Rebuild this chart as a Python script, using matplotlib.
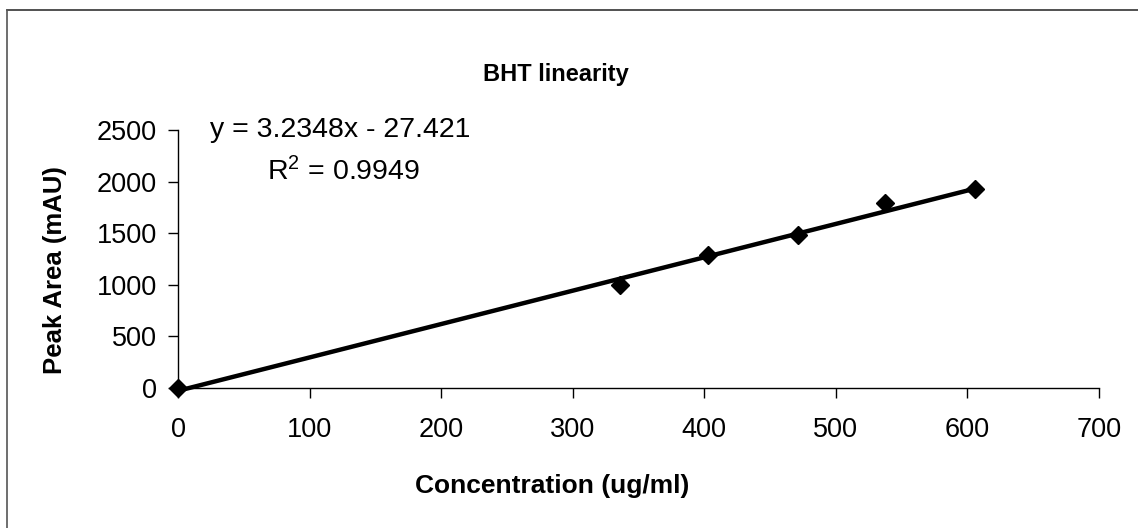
import matplotlib.pyplot as plt
from matplotlib.lines import Line2D

plt.rcParams['font.family'] = ['Liberation Sans', 'DejaVu Sans']

# BHT calibration points
conc = [0, 336, 403, 471.5, 537.5, 605.5]
area = [0, 998, 1289, 1483, 1790, 1925]

slope = 3.2348
intercept = -27.421
r2 = 0.9949

x_ticks = [0, 100, 200, 300, 400, 500, 600, 700]
y_ticks = [0, 500, 1000, 1500, 2000, 2500]

W, H = 1138, 528
fig = plt.figure(figsize=(W / 100, H / 100), dpi=100)
ax = fig.add_axes([178 / W, 1 - 388 / H, 921 / W, 258 / H])

# linear trendline over the data range
x0, x1 = min(conc), max(conc)
ax.plot([x0, x1], [slope * x0 + intercept, slope * x1 + intercept],
        color='black', lw=3.2, solid_capstyle='butt', clip_on=False, zorder=2)
ax.plot(conc, area, linestyle='none', marker='D', ms=9, color='black',
        clip_on=False, zorder=3)

ax.set_xlim(0, 700)
ax.set_ylim(0, 2500)
ax.set_xticks(x_ticks)
ax.set_yticks(y_ticks)
ax.tick_params(axis='both', direction='out', length=7, width=1, labelsize=19.5)
ax.tick_params(axis='x', pad=14)
ax.tick_params(axis='y', pad=8)
for s in ['top', 'right']:
    ax.spines[s].set_visible(False)
for s in ['left', 'bottom']:
    ax.spines[s].set_linewidth(1)

fig.text(552 / W, 1 - 486 / H, 'Concentration (ug/ml)', fontsize=19, fontweight='bold',
         ha='center', va='center')
fig.text(55 / W, 1 - 270 / H, 'Peak Area (mAU)', fontsize=18.5, fontweight='bold',
         ha='center', va='center', rotation=90)
fig.text(556 / W, 1 - 75 / H, 'BHT linearity', fontsize=17, fontweight='bold',
         ha='center', va='center')

eq = 'y = %.4fx - %.3f' % (slope, -intercept)
ax.text(0.035, 1.0, eq, transform=ax.transAxes, fontsize=20.5, va='center', ha='left')
ax.text(0.097, 0.84, '$\\mathregular{R^2}$ = %.4f' % r2, transform=ax.transAxes,
        fontsize=20.5, va='center', ha='left')

# chart area border (top and left edges)
fig.add_artist(Line2D([7 / W, 1], [1 - 10 / H, 1 - 10 / H], color='#333333', lw=1.2))
fig.add_artist(Line2D([7 / W, 7 / W], [0, 1 - 10 / H], color='#555555', lw=1.2))

fig.savefig('out.png', dpi=100)
